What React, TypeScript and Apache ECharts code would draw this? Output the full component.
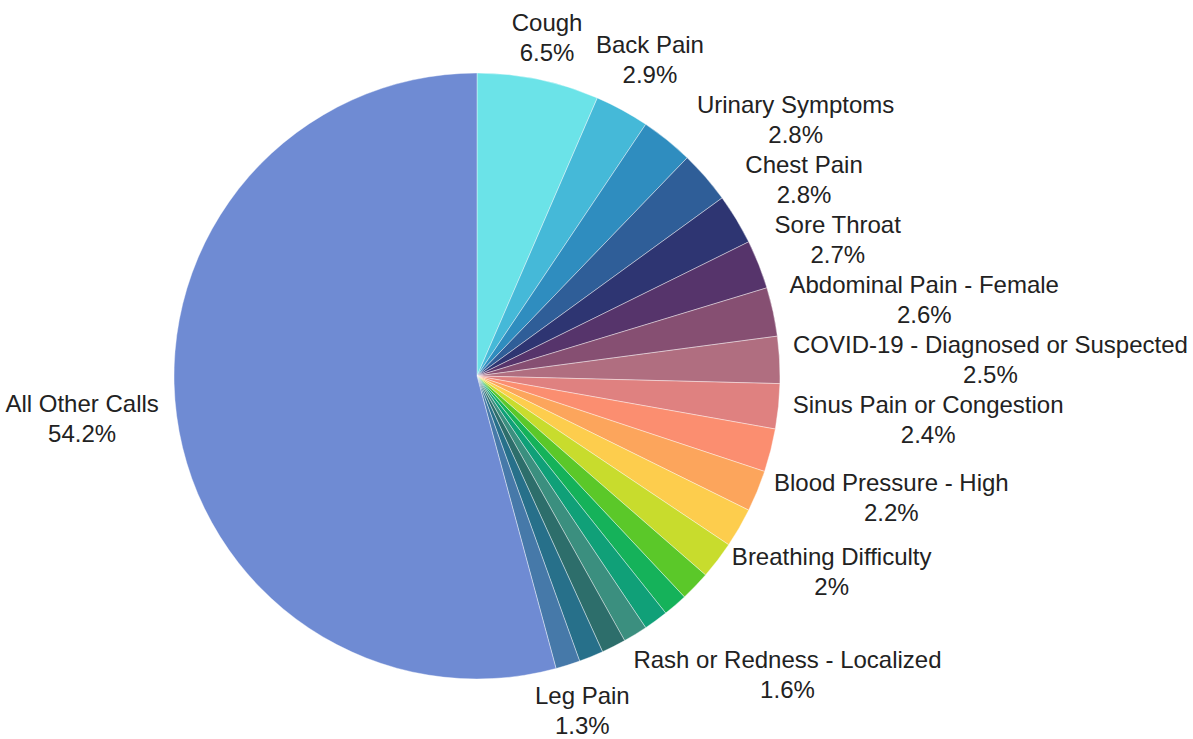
import React, { useEffect, useRef } from "react";
import * as echarts from "echarts";

// ---- Data (percent of calls), clockwise from 12 o'clock ----
const categories: string[] = [
  "Cough",
  "Back Pain",
  "Urinary Symptoms",
  "Chest Pain",
  "Sore Throat",
  "Abdominal Pain - Female",
  "Other Call Type A",
  "COVID-19 - Diagnosed or Suspected",
  "Sinus Pain or Congestion",
  "Other Call Type B",
  "Blood Pressure - High",
  "Other Call Type C",
  "Breathing Difficulty",
  "Rash or Redness - Localized",
  "Other Call Type D",
  "Other Call Type E",
  "Other Call Type F",
  "Other Call Type G",
  "Other Call Type H",
  "Leg Pain",
  "All Other Calls",
];

const values: number[] = [
  6.5, 2.9, 2.8, 2.8, 2.7, 2.6, 2.6, 2.5, 2.4, 2.3, 2.2, 2.1, 2.0, 1.6, 1.3,
  1.3, 1.3, 1.3, 1.3, 1.3, 54.2,
];

// slices whose label is drawn in the reference
const labeledCategories: string[] = [
  "Cough",
  "Back Pain",
  "Urinary Symptoms",
  "Chest Pain",
  "Sore Throat",
  "Abdominal Pain - Female",
  "COVID-19 - Diagnosed or Suspected",
  "Sinus Pain or Congestion",
  "Blood Pressure - High",
  "Breathing Difficulty",
  "Rash or Redness - Localized",
  "Leg Pain",
  "All Other Calls",
];

const sliceColors: string[] = [
  "#6be3e8",
  "#45b9d8",
  "#2f8dbf",
  "#2f5e98",
  "#2e3572",
  "#56346b",
  "#864f72",
  "#b06e80",
  "#df8180",
  "#fb8e70",
  "#fca55c",
  "#fdcd4d",
  "#c8dc2d",
  "#5bc829",
  "#15b25a",
  "#10a078",
  "#3b8f7f",
  "#2d6e6b",
  "#27708a",
  "#4679a9",
  "#6f8bd3",
];

// ---- layout constants ----
const CHART_W = 1193;
const CHART_H = 739;
const CX = 477;
const CY = 376;
const RADIUS = 303;
const CLEAR_R = 316; // labels keep clear of this circle
const CLEAR_H = 48; // effective text height used for the clearance test
const ANCHOR_R = 321; // side-anchored labels start at this radius
const FONT_SIZE = 24;
const LINE_H = 30;
const FONT_FAMILY = '"Liberation Sans", Arial, sans-serif';
const TEXT_COLOR = "#222222";
const MIN_SPACING = 60;

function fmtValue(v: number): string {
  return `${v}%`;
}

function boxDist(bx: number, by: number, w: number, h: number): number {
  const dx = Math.max(Math.abs(bx) - w / 2, 0);
  const dy = Math.max(Math.abs(by) - h / 2, 0);
  return Math.hypot(dx, dy);
}

function fitX(by: number, w: number, h: number, side: number): number {
  const dy = Math.max(Math.abs(by) - h / 2, 0);
  const dx = dy < CLEAR_R ? Math.sqrt(CLEAR_R * CLEAR_R - dy * dy) : 0;
  return side * (dx + w / 2);
}

type LabelPos = { x: number; y: number };

function computeLabelLayout(measure: (s: string) => number): Record<number, LabelPos> {
  const total = values.reduce((a, b) => a + b, 0);
  type Item = { i: number; side: number; w: number; h: number; bx: number; by: number };
  const items: Item[] = [];
  let cum = 0;
  values.forEach((v, i) => {
    const mid = (cum + v / 2) / total;
    cum += v;
    if (!labeledCategories.includes(categories[i])) return;
    const theta = mid * 2 * Math.PI;
    const ux = Math.sin(theta);
    const uy = -Math.cos(theta);
    const w = Math.max(measure(categories[i]), measure(fmtValue(v)));
    const h = 2 * LINE_H;
    const side = ux >= 0 ? 1 : -1;
    let bx: number;
    let by: number;
    if (Math.abs(uy) > 0.65) {
      let d = 0;
      while (boxDist(d * ux, d * uy, w, CLEAR_H) < CLEAR_R) d += 0.5;
      bx = d * ux;
      by = d * uy;
    } else {
      bx = ANCHOR_R * ux + (side * w) / 2;
      by = ANCHOR_R * uy;
    }
    items.push({ i, side, w, h, bx, by });
  });

  const result: Record<number, LabelPos> = {};
  [1, -1].forEach((side) => {
    const list = items.filter((it) => it.side === side).sort((a, b) => a.by - b.by);
    const placed: Item[] = [];
    list.forEach((it) => {
      let changed = true;
      let guard = 0;
      while (changed && guard < 50) {
        changed = false;
        guard++;
        for (const p of placed) {
          const overlapH = Math.abs(it.bx - p.bx) < (it.w + p.w) / 2 - 4;
          if (overlapH && it.by - p.by < MIN_SPACING) {
            it.by = p.by + MIN_SPACING;
            it.bx = fitX(it.by, it.w, it.h, side);
            changed = true;
          }
        }
      }
      placed.push(it);
      result[it.i] = { x: CX + it.bx, y: CY + it.by };
    });
  });
  return result;
}

export default function App() {
  const ref = useRef<HTMLDivElement>(null);

  useEffect(() => {
    if (!ref.current) return;
    const canvas = document.createElement("canvas");
    const ctx = canvas.getContext("2d")!;
    ctx.font = `${FONT_SIZE}px ${FONT_FAMILY}`;
    const measure = (s: string) => ctx.measureText(s).width;
    const layout = computeLabelLayout(measure);

    const chart = echarts.init(ref.current, undefined, { renderer: "svg" });
    const tokenStyle = {
      align: "center" as const,
      fontSize: FONT_SIZE,
      lineHeight: LINE_H,
      fontFamily: FONT_FAMILY,
      color: TEXT_COLOR,
    };
    chart.setOption({
      animation: false,
      backgroundColor: "#ffffff",
      series: [
        {
          type: "pie",
          center: [CX, CY],
          radius: RADIUS,
          startAngle: 90,
          clockwise: true,
          avoidLabelOverlap: false,
          itemStyle: { borderColor: "#ffffff", borderWidth: 0.4 },
          emphasis: { disabled: true },
          label: {
            show: true,
            position: "outside",
            color: TEXT_COLOR,
            fontFamily: FONT_FAMILY,
            fontSize: FONT_SIZE,
            lineHeight: LINE_H,
            formatter: (p: any) => `{n|${p.name}}\n{v|${fmtValue(p.value)}}`,
            rich: { n: tokenStyle, v: tokenStyle },
          },
          labelLine: { show: false },
          labelLayout: (params: any) => {
            const pos = layout[params.dataIndex];
            if (!pos) return {};
            return { x: pos.x, y: pos.y, align: "center", verticalAlign: "middle" };
          },
          data: categories.map((name, i) => ({
            name,
            value: values[i],
            itemStyle: { color: sliceColors[i] },
            label: { show: labeledCategories.includes(name) },
          })),
        },
      ],
    });
    return () => chart.dispose();
  }, []);

  return (
    <div
      ref={ref}
      style={{ position: "absolute", left: 0, top: 0, width: CHART_W, height: CHART_H }}
    />
  );
}
